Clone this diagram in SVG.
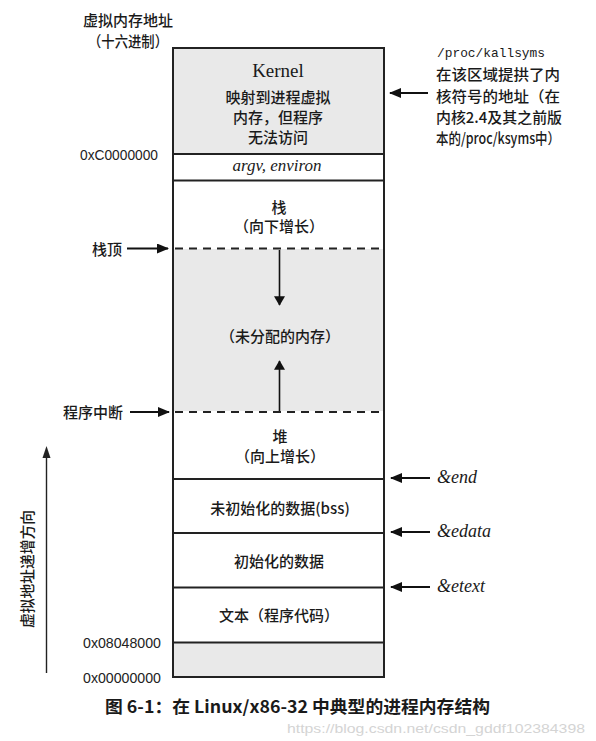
<svg xmlns="http://www.w3.org/2000/svg" width="596" height="741" viewBox="0 0 596 741">
<defs>
<style>
.cjk{font-family:"Noto Sans CJK SC","Noto Sans",sans-serif;font-size:15px;fill:#1a1a1a;font-weight:500}
.c{text-anchor:middle}
.hex{font-family:"Liberation Sans","DejaVu Sans",sans-serif;font-size:14px;fill:#222}
.ser{font-family:"Liberation Serif","DejaVu Serif",serif;fill:#1a1a1a}
.mono{font-family:"Liberation Mono","DejaVu Sans Mono",monospace;font-size:13px;fill:#1a1a1a}
.box{fill:#fff;stroke:#222;stroke-width:2}
.gray{fill:#e9e9e9}
.ln{stroke:#222;stroke-width:2;fill:none}
.dash{stroke:#222;stroke-width:2;stroke-dasharray:8 6;fill:none}
.arr{stroke:#111;stroke-width:2;fill:none;marker-end:url(#ah)}
.arr2{stroke:#111;stroke-width:1.6;fill:none;marker-end:url(#ah2)}
</style>
<marker id="ah" viewBox="0 0 12 10" refX="11" refY="5" markerWidth="12" markerHeight="10" markerUnits="userSpaceOnUse" orient="auto"><path d="M0,0 L12,5 L0,10 Z" fill="#111"/></marker>
<marker id="ah2" viewBox="0 0 12 14" refX="11" refY="7" markerWidth="14" markerHeight="11" markerUnits="userSpaceOnUse" orient="auto"><path d="M0,0 L12,7 L0,14 Z" fill="#111"/></marker>
</defs>
<rect width="596" height="741" fill="#fff"/>

<g id="title">
<text class="cjk" x="128" y="26" text-anchor="middle">虚拟内存地址</text>
<text class="cjk" x="128" y="47" text-anchor="middle" textLength="80" lengthAdjust="spacingAndGlyphs">（十六进制）</text>
</g>

<g id="memory-box">
<rect class="box" x="173" y="48" width="211" height="629"/>
<rect class="gray" x="174" y="49" width="209" height="104"/>
<rect class="gray" x="174" y="249" width="209" height="162"/>
<rect class="gray" x="174" y="643" width="209" height="33"/>
<rect x="173" y="48" width="211" height="629" fill="none" stroke="#222" stroke-width="2"/>
<line class="ln" x1="173" y1="154" x2="384" y2="154"/>
<line class="ln" x1="173" y1="180.5" x2="384" y2="180.5"/>
<line class="dash" x1="175" y1="248.5" x2="384" y2="248.5"/>
<line class="dash" x1="175" y1="412" x2="384" y2="412"/>
<line class="ln" x1="173" y1="479" x2="384" y2="479"/>
<line class="ln" x1="173" y1="533" x2="384" y2="533"/>
<line class="ln" x1="173" y1="587.5" x2="384" y2="587.5"/>
<line class="ln" x1="173" y1="642.5" x2="384" y2="642.5"/>
</g>

<g id="kernel">
<text class="ser c" x="278" y="77" font-size="19">Kernel</text>
<text class="cjk c" x="278" y="103">映射到进程虚拟</text>
<text class="cjk c" x="278" y="123">内存，但程序</text>
<text class="cjk c" x="278" y="143">无法访问</text>
</g>
<g id="argv">
<text class="ser c" x="277" y="171" font-size="17" font-style="italic">argv, environ</text>
</g>
<g id="stack">
<text class="cjk c" x="279" y="213">栈</text>
<text class="cjk c" x="279" y="232">（向下增长）</text>
</g>
<g id="unallocated">
<text class="cjk c" x="280" y="342">（未分配的内存）</text>
</g>
<g id="heap">
<text class="cjk c" x="280" y="442">堆</text>
<text class="cjk c" x="280" y="462">（向上增长）</text>
</g>
<g id="bss">
<text class="cjk c" x="280" y="514">未初始化的数据(bss)</text>
</g>
<g id="data">
<text class="cjk c" x="279" y="567">初始化的数据</text>
</g>
<g id="text-seg">
<text class="cjk c" x="279" y="621">文本（程序代码）</text>
</g>

<g id="addresses">
<text class="hex" x="80" y="160" textLength="78" lengthAdjust="spacingAndGlyphs">0xC0000000</text>
<text class="hex" x="83" y="648" textLength="78" lengthAdjust="spacingAndGlyphs">0x08048000</text>
<text class="hex" x="83" y="683" textLength="78" lengthAdjust="spacingAndGlyphs">0x00000000</text>
</g>

<g id="stack-top-label"><text class="cjk" x="92" y="255">栈顶</text></g>
<g id="brk-label"><text class="cjk" x="63" y="418">程序中断</text></g>

<g id="kallsyms-note">
<text class="mono" x="437" y="57" textLength="108" lengthAdjust="spacingAndGlyphs">/proc/kallsyms</text>
<text class="cjk" x="436" y="80" textLength="124" lengthAdjust="spacingAndGlyphs">在该区域提拱了内</text>
<text class="cjk" x="436" y="102" textLength="124" lengthAdjust="spacingAndGlyphs">核符号的地址（在</text>
<text class="cjk" x="436" y="123" textLength="126" lengthAdjust="spacingAndGlyphs">内核2.4及其之前版</text>
<text class="cjk" x="436" y="144" textLength="124" lengthAdjust="spacingAndGlyphs">本的/proc/ksyms中）</text>
</g>

<g id="symbols">
<text class="ser" x="437" y="483" font-size="18" font-style="italic">&amp;end</text>
<text class="ser" x="437" y="537" font-size="18" font-style="italic">&amp;edata</text>
<text class="ser" x="437" y="592" font-size="18" font-style="italic">&amp;etext</text>
</g>

<g id="direction">
<text class="cjk" transform="translate(33,569) rotate(-90)" text-anchor="middle" textLength="118" lengthAdjust="spacingAndGlyphs">虚拟地址递增方向</text>
</g>

<g id="connectors">
<line class="arr" x1="428" y1="93" x2="390" y2="93"/>
<line class="arr" x1="127" y1="248.5" x2="168" y2="248.5"/>
<line class="arr" x1="130" y1="412" x2="169" y2="412"/>
<line class="arr2" x1="279.5" y1="250" x2="279.5" y2="305"/>
<line class="arr2" x1="279.5" y1="411" x2="279.5" y2="361"/>
<line class="arr" x1="430" y1="478" x2="391" y2="478"/>
<line class="arr" x1="430" y1="532" x2="391" y2="532"/>
<line class="arr" x1="430" y1="587" x2="391" y2="587"/>
<line x1="46.5" y1="673" x2="46.5" y2="456" stroke="#222" stroke-width="1.4"/>
<path d="M46.5,446 L50.5,458 L42.5,458 Z" fill="#222"/>
</g>

<g id="caption">
<text x="105" y="713" font-family="'Noto Sans CJK SC','Noto Sans',sans-serif" font-size="17" font-weight="bold" fill="#1a1a1a" textLength="385" lengthAdjust="spacingAndGlyphs">图 6-1：在 Linux/x86-32 中典型的进程内存结构</text>
<text x="287" y="733" font-family="'Liberation Sans',sans-serif" font-size="13" fill="#d4d4d4" textLength="298" lengthAdjust="spacingAndGlyphs">https://blog.csdn.net/csdn_gddf102384398</text>
</g>
</svg>
